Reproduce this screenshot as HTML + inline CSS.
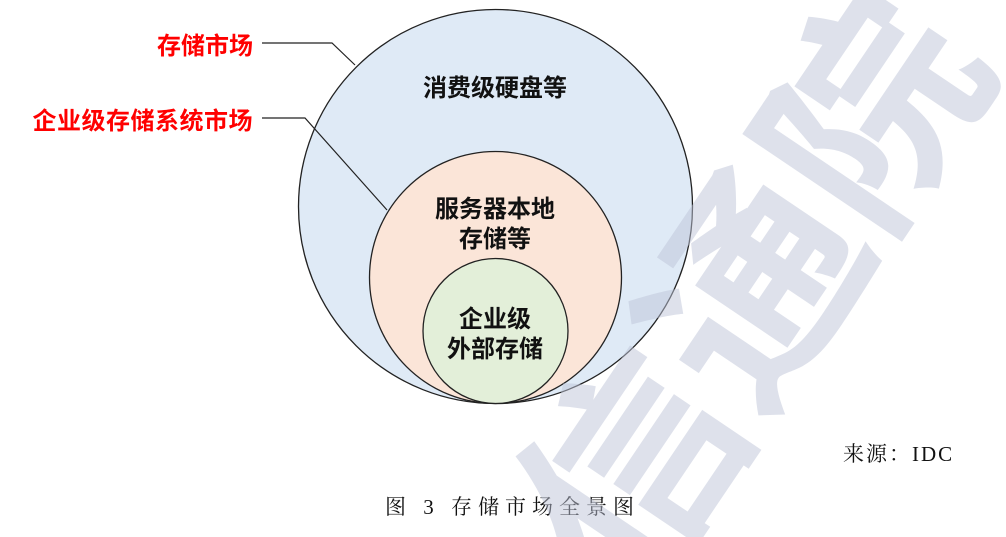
<!DOCTYPE html>
<html><head><meta charset="utf-8"><style>
html,body{margin:0;padding:0;background:#fff;width:1006px;height:537px;overflow:hidden;}
svg{display:block;}
</style></head><body>
<svg width="1006" height="537" viewBox="0 0 1006 537" xmlns="http://www.w3.org/2000/svg" style="overflow:hidden">
<rect width="1006" height="537" fill="#fff"/>
<circle cx="495.5" cy="206.5" r="197" fill="#dfeaf6" stroke="#222" stroke-width="1.3"/>
<circle cx="495.5" cy="277.5" r="126" fill="#fbe5d8" stroke="#222" stroke-width="1.3"/>
<circle cx="495.5" cy="331" r="72.5" fill="#e3efd9" stroke="#222" stroke-width="1.3"/>
<polyline points="262,43 332,43 355,65" fill="none" stroke="#222" stroke-width="1.2"/>
<polyline points="262,118 305,118 387,210" fill="none" stroke="#222" stroke-width="1.2"/>
<g font-family="'Liberation Sans','Noto Sans CJK SC',sans-serif" font-weight="bold" text-anchor="middle" fill="#111" font-size="24">
<text x="495" y="96">消费级硬盘等</text>
<text x="495" y="217">服务器本地</text>
<text x="495" y="247">存储等</text>
<text x="495" y="327">企业级</text>
<text x="495" y="357">外部存储</text>
</g>
<g font-family="'Liberation Sans','Noto Sans CJK SC',sans-serif" font-weight="bold" text-anchor="end" fill="#f00" font-size="24">
<text x="253" y="54">存储市场</text>
<text x="253" y="129" letter-spacing="0.5">企业级存储系统市场</text>
</g>
<g font-family="'Liberation Serif','Noto Serif CJK SC',serif" fill="#111" font-size="21">
<text x="843" y="461" letter-spacing="2">来源：IDC</text>
<text x="385" y="514" font-size="21" letter-spacing="6">图 3 存储市场全景图</text>
</g>
<text transform="translate(770,300) rotate(-56)" text-anchor="middle" dominant-baseline="middle" font-family="'Noto Sans CJK SC',sans-serif" font-weight="bold" font-size="215" fill="rgb(190,195,215)" fill-opacity="0.5">信通院</text>
</svg>
</body></html>
